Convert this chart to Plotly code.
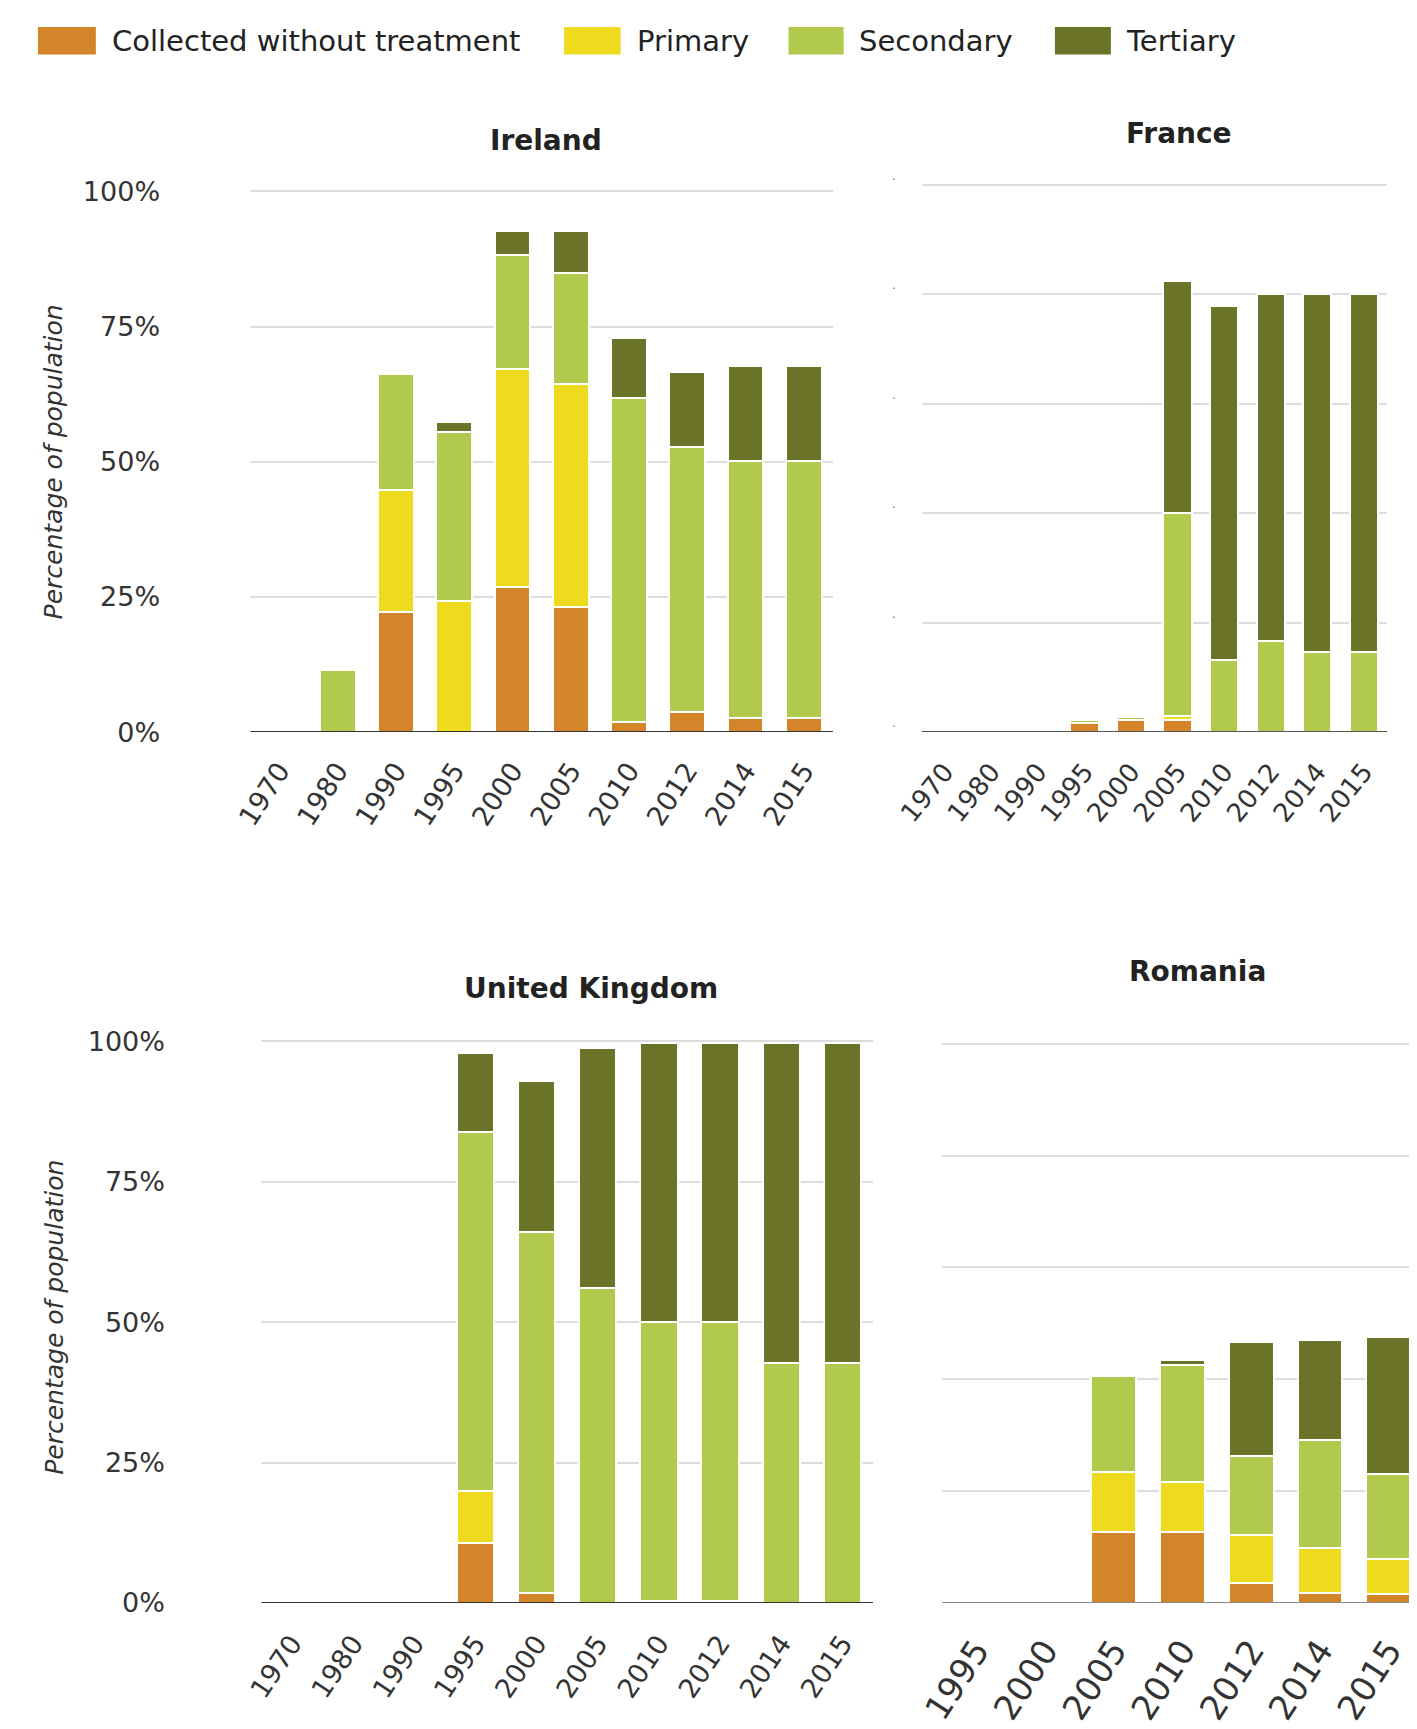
import plotly.graph_objects as go

W, H = 1417, 1729

series_names = ["Collected without treatment", "Primary", "Secondary", "Tertiary"]
colors = ["#D4852A", "#EEDB1E", "#B1C94C", "#6B7328"]

# Ireland
ie_years = ["1970", "1980", "1990", "1995", "2000", "2005", "2010", "2012", "2014", "2015"]
ie_collected = [0, 0, 22.2, 0, 26.9, 23.1, 1.9, 3.7, 2.6, 2.6]
ie_primary = [0, 0, 22.6, 24.3, 40.2, 41.2, 0, 0, 0, 0]
ie_secondary = [0, 11.5, 21.4, 31.3, 21.2, 20.7, 59.9, 49.1, 47.5, 47.5]
ie_tertiary = [0, 0, 0, 1.8, 4.4, 7.7, 11.1, 13.9, 17.7, 17.7]

# France
fr_years = ["1970", "1980", "1990", "1995", "2000", "2005", "2010", "2012", "2014", "2015"]
fr_collected = [0.2, 0.2, 0.2, 1.7, 2.2, 2.2, 0, 0, 0, 0]
fr_primary = [0, 0, 0, 0, 0, 0.7, 0, 0, 0, 0]
fr_secondary = [0, 0, 0, 0.5, 0.5, 37.1, 13.2, 16.6, 14.7, 14.7]
fr_tertiary = [0, 0, 0, 0, 0, 42.5, 64.6, 63.4, 65.3, 65.3]

# United Kingdom
uk_years = ["1970", "1980", "1990", "1995", "2000", "2005", "2010", "2012", "2014", "2015"]
uk_collected = [0, 0, 0, 10.7, 1.8, 0, 0, 0, 0, 0]
uk_primary = [0, 0, 0, 9.2, 0, 0, 0.3, 0.3, 0, 0]
uk_secondary = [0, 0, 0, 63.9, 64.2, 56.1, 49.8, 49.8, 42.8, 42.8]
uk_tertiary = [0, 0, 0, 14.2, 26.9, 42.8, 49.7, 49.7, 57.0, 57.0]

# Romania
ro_years = ["1995", "2000", "2005", "2010", "2012", "2014", "2015"]
ro_collected = [0, 0, 12.6, 12.6, 3.5, 1.8, 1.6]
ro_primary = [0, 0, 10.8, 9.0, 8.6, 8.0, 6.3]
ro_secondary = [0, 0, 17.2, 21.0, 14.1, 19.3, 15.1]
ro_tertiary = [0, 0, 0, 0.9, 20.5, 18.0, 24.6]

panels = [
    ("Ireland", ie_years, [ie_collected, ie_primary, ie_secondary, ie_tertiary], "x", "y", 0.615),
    ("France", fr_years, [fr_collected, fr_primary, fr_secondary, fr_tertiary], "x2", "y2", 0.61),
    ("United Kingdom", uk_years, [uk_collected, uk_primary, uk_secondary, uk_tertiary], "x3", "y3", 0.61),
    ("Romania", ro_years, [ro_collected, ro_primary, ro_secondary, ro_tertiary], "x4", "y4", 0.65),
]

fig = go.Figure()
for title, years, vals, xa, ya, bw in panels:
    for name, col, v in zip(series_names, colors, vals):
        fig.add_trace(go.Bar(
            x=years, y=v, name=name, xaxis=xa, yaxis=ya, width=bw,
            marker=dict(color=col, line=dict(color="white", width=2)),
            showlegend=False,
        ))

def px_x(p):
    return p / W

def px_y(p):
    return 1 - p / H

FONT = "DejaVu Sans"
YMAX = 100.6

def ydom(bottom_px, top100_px):
    # extend the top slightly so the 100 gridline is drawn inside the plot
    ext = (bottom_px - top100_px) * (YMAX - 100) / 100
    return [px_y(bottom_px), px_y(top100_px - ext)]

def xaxis(dom, anchor, size=27, ang=-57, tl=11):
    return dict(domain=dom, anchor=anchor, type="category", tickangle=ang,
                tickfont=dict(family=FONT, size=size, color="#333333"),
                ticks="outside", ticklen=tl, tickcolor="rgba(0,0,0,0)",
                showgrid=False, showline=False, zeroline=False, fixedrange=True)

def yaxis(dom, anchor, show=True, dtick=25, suffix="%", standoff=84):
    return dict(domain=dom, anchor=anchor, range=[0, YMAX], dtick=dtick, ticksuffix=suffix,
                showticklabels=show, tickfont=dict(family=FONT, size=27, color="#333333"),
                ticks="outside" if show else "", ticklen=standoff, tickcolor="rgba(0,0,0,0)",
                showgrid=True, gridcolor="#DDDDDD", gridwidth=1.5,
                zeroline=False, showline=False, fixedrange=True)

fig.update_layout(
    width=W, height=H, margin=dict(l=0, r=0, t=0, b=0),
    paper_bgcolor="white", plot_bgcolor="white",
    barmode="stack", bargap=0.39, showlegend=False,
    xaxis=xaxis([px_x(220.5), px_x(813.8)], "y", size=27, ang=-57),
    yaxis=yaxis(ydom(723.4, 174.2), "x", standoff=84),
    xaxis2=xaxis([px_x(904.2), px_x(1378.4)], "y2", size=26, ang=-51, tl=13),
    yaxis2=yaxis(ydom(723.4, 167.6), "x2", show=False, dtick=20, suffix=""),
    xaxis3=xaxis([px_x(231.6), px_x(854.6)], "y3", size=27, ang=-56, tl=13),
    yaxis3=yaxis(ydom(1608.0, 1037.6), "x3", standoff=90),
    xaxis4=xaxis([px_x(925), px_x(1415)], "y4", size=34, ang=-57, tl=13),
    yaxis4=yaxis(ydom(1608.0, 1040.0), "x4", show=False, dtick=20, suffix=""),
)

# Baselines drawn above the bars
for xr, yr, col in (("x", "y", "#333333"), ("x2", "y2", "#555555"),
                    ("x3", "y3", "#333333"), ("x4", "y4", "#888888")):
    fig.add_shape(type="line", xref=xr + " domain", yref=yr, x0=0, x1=1, y0=0, y1=0,
                  line=dict(color=col, width=2), layer="above")

# Panel titles
title_pos = [("Ireland", 521.6, 122.4), ("France", 1166.7, 115.8),
             ("United Kingdom", 567.9, 983.6), ("Romania", 1185.4, 967.1)]
for t, xx, yy in title_pos:
    fig.add_annotation(text="<b>%s</b>" % t, x=px_x(xx), y=px_y(yy), xref="paper", yref="paper",
                       xanchor="center", yanchor="middle", showarrow=False,
                       font=dict(family=FONT, size=28, color="#222222"))

# Y axis titles
for yy in (448.8, 1317.7):
    fig.add_annotation(text="<i>Percentage of population</i>", x=px_x(20), y=px_y(yy),
                       xref="paper", yref="paper", xanchor="center", yanchor="middle",
                       textangle=-90, showarrow=False,
                       font=dict(family=FONT, size=25, color="#333333"))

# France faint tick dots
for v in range(0, 101, 20):
    fig.add_annotation(text=".", x=px_x(876), y=v, xref="paper", yref="y2",
                       xanchor="center", yanchor="bottom", showarrow=False,
                       font=dict(family=FONT, size=12, color="#777777"))

# Legend drawn as swatches + labels
legend_items = [(4, 63, 77), (540, 597.6, 612), (768.6, 824.8, 838), (1040, 1097, 1110)]
for (x0, x1, tx), name, col in zip(legend_items, series_names, colors):
    fig.add_shape(type="rect", xref="paper", yref="paper",
                  x0=px_x(x0), x1=px_x(x1), y0=px_y(35), y1=px_y(7),
                  fillcolor=col, line=dict(width=0))
    fig.add_annotation(text=name, x=px_x(tx), y=px_y(21), xref="paper", yref="paper",
                       xanchor="left", yanchor="middle", showarrow=False,
                       font=dict(family=FONT, size=29, color="#222222"))

fig.write_html("out.html")
